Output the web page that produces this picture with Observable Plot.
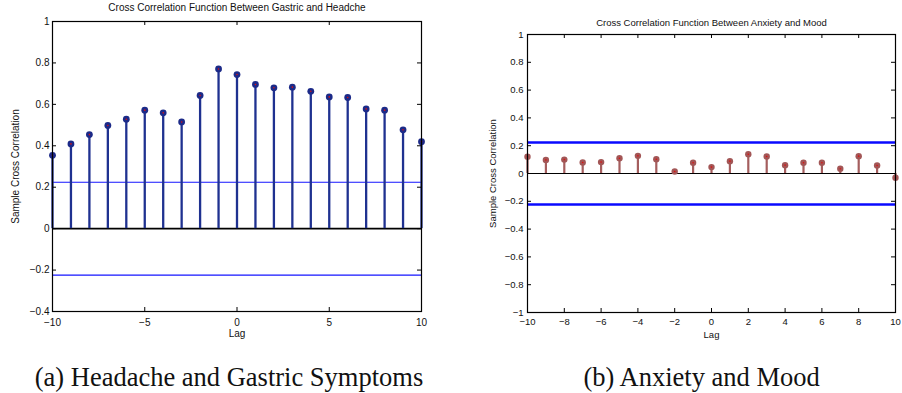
<!DOCTYPE html>
<html>
<head>
<meta charset="utf-8">
<script src="https://cdn.jsdelivr.net/npm/d3@7"></script>
<script src="https://cdn.jsdelivr.net/npm/@observablehq/plot@0.6"></script>
<style>
  html, body { margin: 0; padding: 0; background: #fff; }
  #wrap { position: relative; width: 902px; height: 393px; background: #fff; overflow: hidden; }
  #wrap svg { position: absolute; top: 0; }
  .cap { position: absolute; top: 362px; line-height: 30px; font-family: "Liberation Serif", "Times New Roman", serif; font-size: 26.5px; color: #111; text-align: center; white-space: nowrap; }
</style>
</head>
<body>
<div id="wrap"></div>
<script>
// ---- data ----
const lags = [-10, -9, -8, -7, -6, -5, -4, -3, -2, -1, 0, 1, 2, 3, 4, 5, 6, 7, 8, 9, 10];
const gastricHeadacheCCF = [0.354, 0.409, 0.454, 0.498, 0.528, 0.572, 0.559, 0.515, 0.643, 0.771, 0.744, 0.696, 0.680, 0.683, 0.663, 0.636, 0.633, 0.578, 0.572, 0.477, 0.420];
const anxietyMoodCCF = [0.120, 0.098, 0.100, 0.079, 0.082, 0.110, 0.127, 0.103, 0.014, 0.077, 0.046, 0.089, 0.139, 0.122, 0.060, 0.077, 0.077, 0.034, 0.125, 0.058, -0.031];
const gastricBounds = [0.224, -0.224];
const anxietyBounds = [0.223, -0.223];
const leftXTicks = [-10, -5, 0, 5, 10];
const leftYTicks = [-0.4, -0.2, 0, 0.2, 0.4, 0.6, 0.8, 1];
const rightXTicks = [-10, -8, -6, -4, -2, 0, 2, 4, 6, 8, 10];
const rightYTicks = [-1, -0.8, -0.6, -0.4, -0.2, 0, 0.2, 0.4, 0.6, 0.8, 1];
const leftTitle = "Cross Correlation Function Between Gastric and Headche";
const rightTitle = "Cross Correlation Function Between Anxiety and Mood";
const yLabel = "Sample Cross Correlation";
const xLabel = "Lag";
const captionA = "(a) Headache and Gastric Symptoms";
const captionB = "(b) Anxiety and Mood";

const fmt = d => String(d).replace("-", "\u2212");

function ccfChart(cfg) {
  const rows = lags.map((l, i) => ({lag: l, r: cfg.values[i]}));
  const pw = cfg.width - cfg.ml - cfg.mr;
  const ph = cfg.height - cfg.mt - cfg.mb;
  const tl = 4;
  const fam = "Liberation Sans, Arial, Helvetica, sans-serif";
  return Plot.plot({
    width: cfg.width,
    height: cfg.height,
    marginLeft: cfg.ml, marginRight: cfg.mr, marginTop: cfg.mt, marginBottom: cfg.mb,
    style: {fontFamily: fam, fontSize: cfg.fs + "px", color: "#111", background: "transparent", overflow: "visible"},
    x: {domain: [-10, 10], axis: null},
    y: {domain: cfg.ydomain, axis: null},
    marks: [
      Plot.ruleY(cfg.bounds, {stroke: cfg.boundColor, strokeWidth: cfg.boundWidth}),
      Plot.ruleY([0], {stroke: "#000", strokeWidth: cfg.zeroWidth}),
      Plot.ruleX(rows, {x: "lag", y1: 0, y2: "r", stroke: cfg.stemColor, strokeWidth: cfg.stemWidth}),
      Plot.dot(rows, {x: "lag", y: "r", r: cfg.dotR, fill: cfg.dotColor, stroke: null}),
      Plot.dot(rows, {x: "lag", y: "r", r: 0.8, fill: "#e01010", stroke: null}),
      Plot.frame({stroke: "#000", strokeWidth: 1.2}),
      // inward ticks on all four sides
      Plot.tickX(cfg.xticks, {x: d => d, insetTop: ph - tl, stroke: "#000"}),
      Plot.tickX(cfg.xticks, {x: d => d, insetBottom: ph - tl, stroke: "#000"}),
      Plot.tickY(cfg.yticks, {y: d => d, insetRight: pw - tl, stroke: "#000"}),
      Plot.tickY(cfg.yticks, {y: d => d, insetLeft: pw - tl, stroke: "#000"}),
      Plot.axisX(cfg.xticks, {tickSize: 0, tickPadding: cfg.xpad, tickFormat: fmt, label: null, fontSize: cfg.fs}),
      Plot.axisY(cfg.yticks, {tickSize: 0, tickPadding: cfg.ypad, tickFormat: fmt, label: null, fontSize: cfg.fs}),
      Plot.text([cfg.title], {text: d => d, frameAnchor: "top", dy: cfg.titleDy, lineAnchor: "middle", fontSize: cfg.fs}),
      Plot.text([xLabel], {text: d => d, frameAnchor: "bottom", dy: cfg.lagDy, lineAnchor: "middle", fontSize: cfg.fs}),
      Plot.text([yLabel], {text: d => d, frameAnchor: "left", dx: cfg.ylabDx, rotate: -90, lineAnchor: "middle", textAnchor: "middle", fontSize: cfg.fs})
    ]
  });
}

const left = ccfChart({
  values: gastricHeadacheCCF, bounds: gastricBounds,
  width: 440, height: 340, ml: 52, mr: 19, mt: 21, mb: 29,
  ydomain: [-0.4, 1], xticks: leftXTicks, yticks: leftYTicks,
  stemColor: "#1f3190", stemWidth: 2.3, dotColor: "#1c2a88", dotR: 3.4,
  boundColor: "#1414ff", boundWidth: 1.2, zeroWidth: 1.6,
  fs: 10, xpad: 7, ypad: 3, title: leftTitle, titleDy: -14, lagDy: 22, ylabDx: -37
});
left.style.left = "0px";

const right = ccfChart({
  values: anxietyMoodCCF, bounds: anxietyBounds,
  width: 432, height: 340, ml: 57, mr: 7, mt: 34, mb: 28,
  ydomain: [-1, 1], xticks: rightXTicks, yticks: rightYTicks,
  stemColor: "#a45e5e", stemWidth: 2.2, dotColor: "#a25656", dotR: 3.2,
  boundColor: "#0a0aff", boundWidth: 2.4, zeroWidth: 1.2,
  fs: 9.5, xpad: 6, ypad: 4, title: rightTitle, titleDy: -12, lagDy: 22, ylabDx: -35
});
right.style.left = "470px";

const wrap = document.getElementById("wrap");
wrap.appendChild(left);
wrap.appendChild(right);

const ca = document.createElement("div");
ca.className = "cap"; ca.style.left = "0px"; ca.style.width = "458px"; ca.textContent = captionA;
const cb = document.createElement("div");
cb.className = "cap"; cb.style.left = "501.7px"; cb.style.width = "400px"; cb.textContent = captionB;
wrap.appendChild(ca);
wrap.appendChild(cb);
</script>
</body>
</html>
